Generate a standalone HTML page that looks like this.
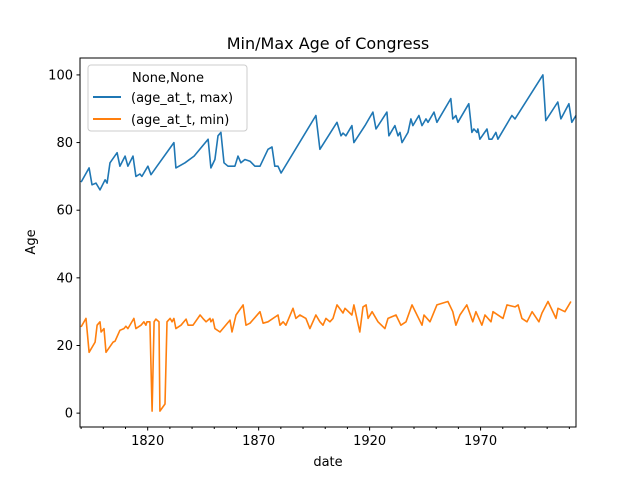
<!DOCTYPE html>
<html><head><meta charset="utf-8"><style>
body{margin:0;background:#fff}
svg{display:block;font-family:"DejaVu Sans","Liberation Sans",sans-serif}
</style></head><body>
<svg id="chart" width="640" height="480">
<text x="328" y="49" text-anchor="middle" font-size="16">Min/Max Age of Congress</text>
<text x="328" y="466" text-anchor="middle" font-size="13">date</text>
<text transform="translate(35,242) rotate(-90)" text-anchor="middle" font-size="13">Age</text>
<g id="ticks"></g>
<g id="series"></g>
<rect x="80" y="58" width="496" height="369" fill="none" stroke="#000" stroke-width="1"/>
<g>
<rect x="88" y="65" width="159" height="66" rx="3" fill="#fff" fill-opacity="0.8" stroke="#ccc"/>
<text x="168" y="82" text-anchor="middle" font-size="13">None,None</text>
<line x1="93" y1="97" x2="121" y2="97" stroke="#1f77b4" stroke-width="2"/>
<text x="131" y="102" font-size="13">(age_at_t, max)</text>
<line x1="93" y1="119" x2="121" y2="119" stroke="#ff7f0e" stroke-width="2"/>
<text x="131" y="124" font-size="13">(age_at_t, min)</text>
</g>
</svg>
<script>
const maxYears=[1790.0,1793.6,1794.9,1796.7,1798.5,1800.8,1801.7,1803.0,1806.2,1807.5,1809.8,1811.1,1813.4,1814.7,1816.5,1817.4,1820.1,1821.5,1824.2,1831.8,1832.7,1836.8,1840.9,1847.2,1848.5,1850.3,1851.7,1853.0,1854.4,1856.2,1857.5,1859.3,1860.7,1862.0,1863.8,1866.1,1868.3,1870.6,1874.2,1876.0,1877.3,1878.7,1880.1,1895.8,1897.6,1905.3,1907.1,1908.0,1909.3,1912.0,1912.9,1917.9,1919.7,1921.5,1922.9,1927.8,1928.7,1931.4,1932.8,1933.7,1934.6,1937.3,1938.6,1939.5,1942.2,1943.6,1945.4,1946.3,1949.0,1950.3,1956.6,1957.5,1958.9,1959.8,1964.7,1966.1,1967.0,1968.4,1968.8,1969.7,1972.9,1973.8,1975.1,1976.9,1977.8,1984.1,1985.5,1998.1,1999.4,2004.8,2006.2,2009.8,2011.1,2013.0];
const maxAges=[68.3,72.5,67.5,68,66,69,68,74,77,73,76,73,76,70,70.7,70,73,70.5,73,80,72.5,74,76,81,72.5,75,82,83,74,73,73,73,76,74,75,74.5,73,73,78,78.7,73,73,71,88,78,86,82,82.8,82,85,80,85,87,89,84,89,82,85,82,83,80,83,87,85,88,85,87,86,89,86,93,87,88,86,91.5,83,84,83,84,81,84,81,81,83,81,88,87,100,86.5,92,87,91.5,86,88];
const minYears=[1790.0,1792.2,1793.6,1796.3,1797.2,1798.5,1799.0,1800.3,1801.2,1804.4,1805.3,1807.5,1809.3,1810.2,1811.1,1813.8,1814.7,1817.0,1818.3,1819.2,1819.7,1821.0,1822.0,1822.9,1823.7,1825.1,1825.5,1827.8,1828.7,1830.1,1831.0,1831.8,1832.7,1835.0,1837.3,1838.2,1840.4,1843.6,1844.9,1846.3,1848.1,1848.5,1849.4,1850.3,1852.6,1857.1,1858.0,1859.8,1863.0,1864.3,1866.1,1870.6,1872.0,1874.2,1878.7,1879.6,1881.0,1882.3,1885.5,1886.8,1888.6,1891.3,1893.1,1895.8,1897.6,1899.0,1900.3,1902.1,1903.5,1905.3,1908.0,1908.9,1912.0,1912.9,1915.6,1917.0,1918.4,1919.3,1921.1,1923.8,1926.9,1928.3,1931.9,1934.1,1936.4,1939.1,1943.6,1944.5,1947.2,1950.3,1955.3,1957.5,1958.9,1960.7,1963.8,1966.5,1967.9,1970.6,1972.0,1974.7,1975.6,1980.1,1981.9,1985.5,1986.9,1988.6,1990.9,1993.2,1996.3,1997.7,2000.4,2004.0,2004.9,2008.0,2008.9,2010.7,2013.0];
const minAges=[25.5,28,18,21,26,27,24,25,18,21,21.3,24.5,25,25.7,25,28,25,26,27,26,27,27,0.6,27,27.8,27,0.6,2.7,27,28,27,28,25,26,27.8,26,26,29,28,27,28,27,27.8,25,24,27.5,24,29,32,26,26.6,30,26.6,27,29,26,27,26,31,28,29,28,25,29,27,26,28,27,28,32,29.6,31,29,32,24,31.4,32,28,30,27,25,28,29,26,27,32,26,29,27,32,33,30,26,29,32,27,30,26,29,27,30,28,32,31.4,32,28,27,30,27,29.6,33,28,31,30,31,33];
const yTicks=[0,20,40,60,80,100];
const xMajor=[1820,1870,1920,1970];
const X0=80,X1=576,Y0=58,Y1=427,XMIN=1789.5,XMAX=2013,YMIN=-4.1,YMAX=105;
const xs=v=>X0+(v-XMIN)/(XMAX-XMIN)*(X1-X0);
const ys=v=>Y1-(v-YMIN)/(YMAX-YMIN)*(Y1-Y0);
const NS='http://www.w3.org/2000/svg';
const tg=document.getElementById('ticks'),sg=document.getElementById('series');
function mk(tag,attrs,parent){const e=document.createElementNS(NS,tag);for(const k in attrs)e.setAttribute(k,attrs[k]);parent.appendChild(e);return e;}
yTicks.forEach(t=>{const y=ys(t);
 const l=mk('line',{x1:X0-3.5,x2:X0,y1:y,y2:y,stroke:'#000'},tg);
 
 
 const tx=mk('text',{x:X0-7,y:y+4.5,'text-anchor':'end','font-size':'13'},tg);tx.textContent=t;
 
 
});
for(let yr=1790;yr<=2010;yr+=10){const x=xs(yr);const major=xMajor.includes(yr);
 const l=mk('line',{x1:x,x2:x,y1:Y1,y2:Y1+(major?3.5:2),stroke:'#000'},tg);
 
 
}
xMajor.forEach(t=>{const tx=mk('text',{x:xs(t),y:Y1+18,'text-anchor':'middle','font-size':'13'},tg);tx.textContent=t;
 
 
});
function line(xa,va,color,name){
 const d=xa.map((x,i)=>(i?'L':'M')+xs(x).toFixed(1)+','+ys(va[i]).toFixed(1)).join('');
 const p=mk('path',{d:d,fill:'none',stroke:color,'stroke-width':'1.6','stroke-linejoin':'round'},sg);
 
 
}
line(maxYears,maxAges,'#1f77b4','max-age-line');
line(minYears,minAges,'#ff7f0e','min-age-line');
</script>
</body></html>
